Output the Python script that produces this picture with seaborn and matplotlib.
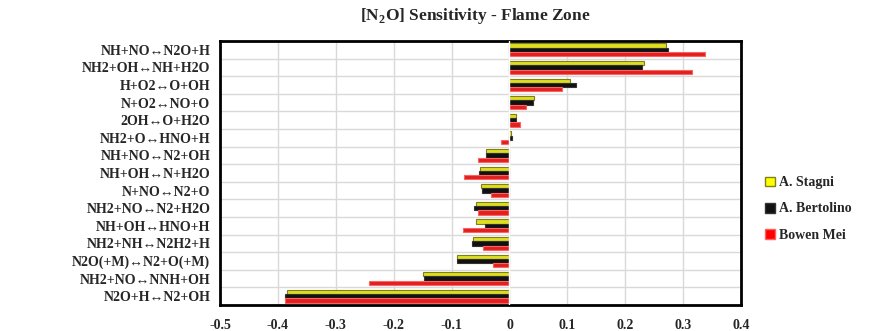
import numpy as np
import pandas as pd
import matplotlib
matplotlib.use("Agg")
import matplotlib.pyplot as plt
import seaborn as sns
from matplotlib.patches import Patch

reactions = [
    "NH+NO↔N2O+H", "NH2+OH↔NH+H2O", "H+O2↔O+OH", "N+O2↔NO+O", "2OH↔O+H2O",
    "NH2+O↔HNO+H", "NH+NO↔N2+OH", "NH+OH↔N+H2O", "N+NO↔N2+O", "NH2+NO↔N2+H2O",
    "NH+OH↔HNO+H", "NH2+NH↔N2H2+H", "N2O(+M)↔N2+O(+M)", "NH2+NO↔NNH+OH", "N2O+H↔N2+OH",
]
stagni = [0.271, 0.233, 0.105, 0.043, 0.012, 0.003, -0.040, -0.050, -0.049, -0.057,
          -0.058, -0.063, -0.090, -0.150, -0.385]
bertolino = [0.274, 0.229, 0.115, 0.040, 0.012, 0.004, -0.040, -0.052, -0.047, -0.062,
             -0.042, -0.065, -0.090, -0.148, -0.387]
mei = [0.338, 0.316, 0.091, 0.029, 0.018, -0.015, -0.054, -0.079, -0.032, -0.054,
       -0.081, -0.045, -0.028, -0.242, -0.387]
series_names = ["A. Stagni", "A. Bertolino", "Bowen Mei"]
xticks = [-0.5, -0.4, -0.3, -0.2, -0.1, 0, 0.1, 0.2, 0.3, 0.4]
xticklabels = ["-0.5", "-0.4", "-0.3", "-0.2", "-0.1", "0", "0.1", "0.2", "0.3", "0.4"]

colors = ["#ffff00", "#111111", "#ff0000"]
edges = ["#7f7f20", "#333333", "#ff6060"]

df = pd.DataFrame({
    "reaction": reactions * 3,
    "value": stagni + bertolino + mei,
    "model": sum([[n] * len(reactions) for n in series_names], []),
})

sns.set_style("white")
plt.rcParams["font.family"] = ["Liberation Serif", "DejaVu Serif"]
plt.rcParams["font.weight"] = "bold"
plt.rcParams["mathtext.fontset"] = "custom"
plt.rcParams["mathtext.rm"] = "Liberation Serif:bold"
plt.rcParams["mathtext.bf"] = "Liberation Serif:bold"

fig = plt.figure(figsize=(8.7, 3.31), dpi=100)
ax = fig.add_axes([220 / 870, 1 - 305 / 331, (741 - 220) / 870, (305 - 41) / 331])

sns.barplot(data=df, x="value", y="reaction", hue="model", order=reactions,
            hue_order=series_names, palette=colors, orient="h", width=0.72,
            ax=ax, legend=False, zorder=3)
for cont, ec in zip(ax.containers, edges):
    for p in cont:
        p.set_edgecolor(ec)
        p.set_linewidth(0.8)

ax.set_xlim(-0.5, 0.4)
ax.set_ylim(len(reactions) - 0.5, -0.5)
ax.set_xticks(xticks)
ax.set_xticklabels(xticklabels, fontsize=10, fontweight="bold")
ax.set_yticks(range(len(reactions)))
ax.set_yticklabels(reactions, fontsize=10, fontweight="bold",
                   family=["Liberation Serif", "DejaVu Sans"])
ax.set_yticks(np.arange(0.5, len(reactions) - 0.5, 1), minor=True)
ax.grid(True, axis="x", which="major", color="#d9d9d9", lw=1.0, zorder=0)
ax.grid(True, axis="y", which="minor", color="#d9d9d9", lw=1.0, zorder=0)
ax.grid(False, axis="y", which="major")
ax.set_axisbelow(True)
ax.tick_params(axis="both", which="both", length=0, pad=7)
ax.tick_params(axis="x", pad=10)
ax.set_xlabel("")
ax.set_ylabel("")
for s in ax.spines.values():
    s.set_visible(True)
    s.set_color("black")
    s.set_linewidth(2)
ax.axvline(0, color="white", lw=1.0, zorder=6)

fig.text(475 / 870, 1 - 16 / 331, "[N$_{2}$O] Sensitivity - Flame Zone",
         ha="center", va="center", fontsize=12.5, fontweight="bold")

handles = [Patch(facecolor=c, edgecolor=e, lw=1) for c, e in zip(colors, edges)]
fig.legend(handles, series_names, loc="center left",
           bbox_to_anchor=(753 / 870, 1 - 209 / 331), frameon=False,
           prop={"family": "Liberation Serif", "weight": "bold", "size": 10},
           handlelength=0.7, handleheight=0.7, handletextpad=0.3, labelspacing=0.95)

fig.savefig("out.png", dpi=100)
